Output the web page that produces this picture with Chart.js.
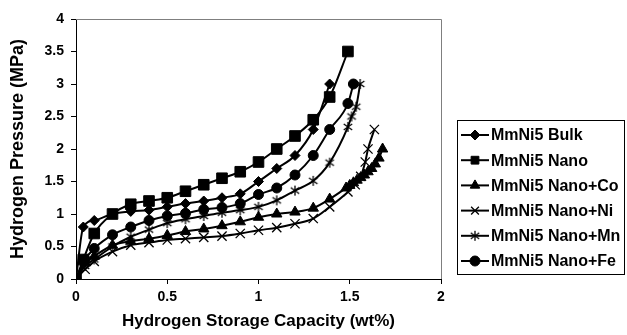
<!DOCTYPE html>
<html>
<head>
<meta charset="utf-8">
<script src="https://cdn.jsdelivr.net/npm/chart.js@4/dist/chart.umd.min.js"></script>
<style>
  html, body { margin: 0; padding: 0; background: #fff; }
  #wrap { width: 627px; height: 335px; position: relative; }
</style>
</head>
<body>
<div id="wrap"><canvas id="c" width="627" height="335"></canvas></div>
<script>
// ---- data ----
const seriesNames = ["MmNi5 Bulk", "MmNi5 Nano", "MmNi5 Nano+Co", "MmNi5 Nano+Ni", "MmNi5 Nano+Mn", "MmNi5 Nano+Fe"];

const bulkX = [0, 0.04, 0.1, 0.2, 0.3, 0.4, 0.5, 0.6, 0.7, 0.8, 0.9, 1.0, 1.1, 1.2, 1.3, 1.39];
const bulkY = [0, 0.8, 0.9, 1.0, 1.04, 1.06, 1.11, 1.16, 1.2, 1.25, 1.31, 1.5, 1.7, 1.9, 2.3, 3.0];

const nanoX = [0, 0.04, 0.1, 0.2, 0.3, 0.4, 0.5, 0.6, 0.7, 0.8, 0.9, 1.0, 1.1, 1.2, 1.3, 1.39, 1.49];
const nanoY = [0, 0.3, 0.7, 1.0, 1.15, 1.2, 1.25, 1.35, 1.45, 1.55, 1.65, 1.8, 2.0, 2.2, 2.45, 2.8, 3.5];

const coX = [0, 0.05, 0.1, 0.2, 0.3, 0.4, 0.5, 0.6, 0.7, 0.8, 0.9, 1.0, 1.1, 1.2, 1.3, 1.39, 1.48, 1.5, 1.52, 1.54, 1.56, 1.58, 1.6, 1.62, 1.64, 1.66, 1.68];
const coY = [0, 0.25, 0.35, 0.52, 0.58, 0.62, 0.67, 0.73, 0.77, 0.82, 0.88, 0.95, 1.0, 1.03, 1.09, 1.23, 1.4, 1.44, 1.48, 1.52, 1.56, 1.6, 1.65, 1.7, 1.77, 1.86, 2.0];

const niX = [0, 0.05, 0.1, 0.2, 0.3, 0.4, 0.5, 0.6, 0.7, 0.8, 0.9, 1.0, 1.1, 1.2, 1.3, 1.39, 1.49, 1.53, 1.56, 1.585, 1.6, 1.635];
const niY = [0, 0.15, 0.27, 0.42, 0.52, 0.56, 0.6, 0.62, 0.64, 0.66, 0.7, 0.75, 0.79, 0.85, 0.93, 1.11, 1.34, 1.45, 1.58, 1.8, 2.0, 2.3];

const mnX = [0, 0.05, 0.1, 0.2, 0.3, 0.4, 0.5, 0.6, 0.7, 0.8, 0.9, 1.0, 1.1, 1.2, 1.3, 1.39, 1.49, 1.51, 1.535, 1.557];
const mnY = [0, 0.2, 0.3, 0.5, 0.65, 0.76, 0.86, 0.92, 0.97, 1.02, 1.06, 1.11, 1.21, 1.36, 1.51, 1.79, 2.34, 2.5, 2.65, 3.0];

const feX = [0, 0.05, 0.1, 0.2, 0.3, 0.4, 0.5, 0.6, 0.7, 0.8, 0.9, 1.0, 1.1, 1.2, 1.3, 1.39, 1.49, 1.52];
const feY = [0, 0.3, 0.47, 0.68, 0.8, 0.9, 0.97, 1.01, 1.07, 1.1, 1.16, 1.3, 1.4, 1.6, 1.9, 2.3, 2.7, 3.0];

const xTicks = [0, 0.5, 1, 1.5, 2];
const yTicks = [0, 0.5, 1, 1.5, 2, 2.5, 3, 3.5, 4];

// ---- custom asterisk marker (x with vertical bar) ----
function makeAsterisk(size) {
  const c = document.createElement('canvas');
  c.width = size; c.height = size;
  const g = c.getContext('2d');
  g.strokeStyle = '#000'; g.lineWidth = 1.3;
  const m = size / 2, r = size / 2 - 1;
  g.beginPath();
  g.moveTo(m - r * 0.85, m - r * 0.6); g.lineTo(m + r * 0.85, m + r * 0.6);
  g.moveTo(m + r * 0.85, m - r * 0.6); g.lineTo(m - r * 0.85, m + r * 0.6);
  g.moveTo(m, m - r); g.lineTo(m, m + r);
  g.stroke();
  return c;
}
const asterisk = makeAsterisk(12);

function pts(xs, ys) { return xs.map((x, i) => ({ x: x, y: ys[i] })); }

const styles = [
  { pointStyle: 'rectRot', pointRadius: 5 },
  { pointStyle: 'rect', pointRadius: 7.5 },
  { pointStyle: 'triangle', pointRadius: 6 },
  { pointStyle: 'crossRot', pointRadius: 6.5, pointBorderWidth: 1.3 },
  { pointStyle: asterisk, pointRadius: 6 },
  { pointStyle: 'circle', pointRadius: 5 }
];
const seriesData = [pts(bulkX, bulkY), pts(nanoX, nanoY), pts(coX, coY), pts(niX, niY), pts(mnX, mnY), pts(feX, feY)];

const datasets = seriesNames.map((name, i) => Object.assign({
  label: name,
  data: seriesData[i],
  showLine: true,
  borderColor: '#000',
  backgroundColor: '#000',
  pointBackgroundColor: '#000',
  pointBorderColor: '#000',
  pointBorderWidth: 1,
  borderWidth: 2,
  cubicInterpolationMode: 'monotone'
}, styles[i]));

const FONT = "'Liberation Sans', Arial, sans-serif";

// plot frame (top/right border) + custom legend
const framePlugin = {
  id: 'frame',
  beforeDatasetsDraw(chart) {
    const { ctx, chartArea: a } = chart;
    ctx.save();
    ctx.strokeStyle = '#7f7f7f';
    ctx.lineWidth = 1;
    ctx.beginPath();
    ctx.moveTo(a.left, a.top + 0.5);
    ctx.lineTo(a.right + 0.5, a.top + 0.5);
    ctx.lineTo(a.right + 0.5, a.bottom);
    ctx.stroke();
    ctx.restore();
  },
  afterDraw(chart) {
    const ctx = chart.ctx;
    const box = { x: 457.5, y: 120.5, w: 167, h: 154 };
    ctx.save();
    ctx.strokeStyle = '#000';
    ctx.lineWidth = 1;
    ctx.strokeRect(box.x, box.y, box.w, box.h);
    ctx.font = "bold 16px " + FONT;
    ctx.textBaseline = 'middle';
    ctx.textAlign = 'left';
    chart.data.datasets.forEach((ds, i) => {
      const yy = 135 + i * 25.2;
      ctx.strokeStyle = '#000';
      ctx.lineWidth = 2;
      ctx.beginPath();
      ctx.moveTo(461, yy); ctx.lineTo(489, yy);
      ctx.stroke();
      ctx.fillStyle = '#000';
      ctx.lineWidth = ds.pointBorderWidth || 1;
      const r = Math.min(ds.pointRadius, 5.5);
      Chart.helpers.drawPoint(ctx, { pointStyle: ds.pointStyle, radius: r, rotation: 0, borderWidth: ds.pointBorderWidth || 1 }, 475, yy);
      ctx.fillStyle = '#000';
      ctx.fillText(ds.label, 491, yy + 1);
    });
    ctx.restore();
  }
};

new Chart(document.getElementById('c'), {
  type: 'scatter',
  data: { datasets: datasets },
  options: {
    responsive: false,
    animation: false,
    devicePixelRatio: 1,
    layout: { padding: { left: 0, right: 186, top: 19, bottom: 0 } },
    plugins: { legend: { display: false }, tooltip: { enabled: false } },
    scales: {
      x: {
        type: 'linear',
        min: 0, max: 2,
        afterBuildTicks: (s) => { s.ticks = xTicks.map(v => ({ value: v })); },
        afterFit: (s) => { s.height = 56; },
        border: { color: '#000', width: 1 },
        grid: { display: true, drawOnChartArea: false, drawTicks: true, tickLength: 5, color: '#000' },
        ticks: { color: '#000', font: { family: FONT, size: 14, weight: 'bold' }, padding: 5, maxRotation: 0,
                 callback: (v) => String(v) },
        title: { display: true, text: 'Hydrogen Storage Capacity (wt%)', color: '#000',
                 font: { family: FONT, size: 17, weight: 'bold', lineHeight: 1 }, padding: { top: 0, bottom: 5 } }
      },
      y: {
        type: 'linear',
        min: 0, max: 4,
        afterBuildTicks: (s) => { s.ticks = yTicks.map(v => ({ value: v })); },
        afterFit: (s) => { s.width = 76; },
        border: { color: '#000', width: 1 },
        grid: { display: true, drawOnChartArea: false, drawTicks: true, tickLength: 5, color: '#000' },
        ticks: { color: '#000', font: { family: FONT, size: 14, weight: 'bold' }, padding: 7,
                 callback: (v) => String(v) },
        title: { display: true, text: 'Hydrogen Pressure (MPa)', color: '#000',
                 font: { family: FONT, size: 18, weight: 'bold', lineHeight: 1 }, padding: { top: 9, bottom: 0 } }
      }
    }
  },
  plugins: [framePlugin]
});
</script>
</body>
</html>
